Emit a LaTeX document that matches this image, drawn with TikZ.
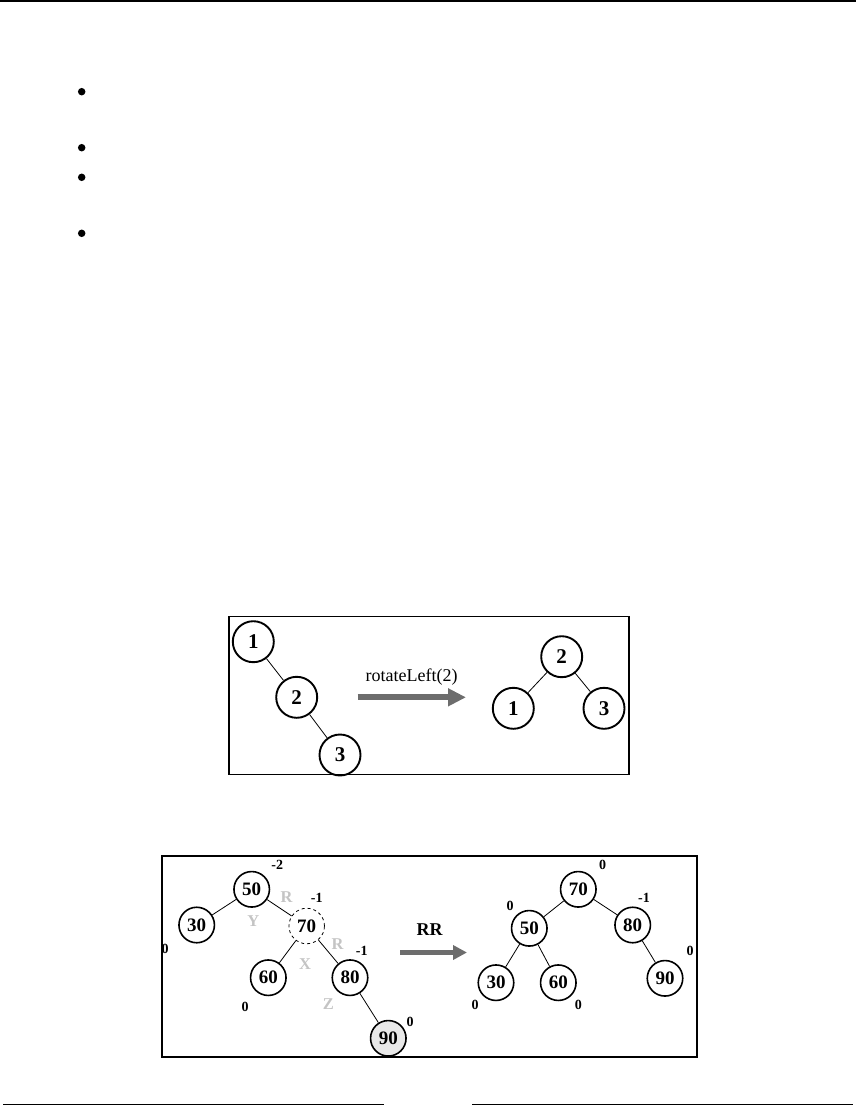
\documentclass[tikz,border=0pt]{standalone}
\usepackage{fontspec}
\setmainfont{Liberation Serif}
\usetikzlibrary{arrows.meta}
\definecolor{arrowgray}{HTML}{6D6D6D}
\definecolor{lightlab}{HTML}{C4C4C4}
\definecolor{fillgray}{HTML}{E8E8E8}
\tikzset{
  tnode/.style={circle, draw, line width=1.9pt, minimum size=41pt, inner sep=0pt, font=\fontsize{21}{21}\selectfont\bfseries},
  snode/.style={circle, draw, line width=1.6pt, minimum size=35.5pt, inner sep=0pt, font=\fontsize{19}{19}\selectfont\bfseries},
  edge/.style={line width=0.8pt},
  bigarrow/.style={draw=arrowgray, line width=6pt, -{Triangle[length=18pt,width=17pt]}, arrowgray},
  smallarrow/.style={draw=arrowgray, line width=5pt, -{Triangle[length=14pt,width=14pt]}, arrowgray},
  bal/.style={inner sep=0pt, font=\fontsize{14}{14}\selectfont\bfseries},
  glab/.style={inner sep=0pt, text=lightlab, font=\fontsize{16.5}{16.5}\selectfont\bfseries},
  frame/.style={draw, line width=1.9pt},
  bullet/.style={circle, fill=black, inner sep=0pt, minimum size=7.5pt},
  rule/.style={line width=0.9pt}
}
\begin{document}
\begin{tikzpicture}[x=1pt,y=-1pt]
\useasboundingbox (0,0) rectangle (856,1105);
% header and footer rules
\coordinate (tl) at (0,1);
\coordinate (tr) at (856,1);
\draw[line width=2pt] (tl) -- (tr);
\coordinate (bl1) at (3,1104.3);
\coordinate (bl2) at (384,1104.3);
\coordinate (br1) at (472,1104.3);
\coordinate (br2) at (853,1104.3);
\draw[rule] (bl1) -- (bl2);
\draw[rule] (br1) -- (br2);
% bullets
\node[bullet] (b1) at (81.7,91.7) {};
\node[bullet] (b2) at (81.7,147.7) {};
\node[bullet] (b3) at (81.7,177.3) {};
\node[bullet] (b4) at (81.7,233.3) {};
% ---------- box 1 ----------
\coordinate (f1a) at (229,616.5);
\coordinate (f1b) at (629,774.5);
\draw[frame] (f1a) rectangle (f1b);
\node[tnode] (a1) at (253.3,641.7) {1};
\node[tnode] (a2) at (296.7,697.3) {2};
\node[tnode] (a3) at (340,755) {3};
\draw[edge] (a1) -- (a2);
\draw[edge] (a2) -- (a3);
\coordinate (r1s) at (357.7,697.3);
\coordinate (r1e) at (466,697.3);
\draw[bigarrow] (r1s) -- (r1e);
\node[inner sep=0pt, font=\fontsize{18}{18}\selectfont] (rotl) at (411.7,676.7) {rotateLeft(2)};
\node[tnode] (c2) at (561.7,656.7) {2};
\node[tnode] (c1) at (513.3,708.3) {1};
\node[tnode] (c3) at (604,708.3) {3};
\draw[edge] (c2) -- (c1);
\draw[edge] (c2) -- (c3);
% ---------- box 2 ----------
\coordinate (f2a) at (162,856);
\coordinate (f2b) at (697,1057);
\draw[frame] (f2a) rectangle (f2b);
\node[snode] (n50) at (251.7,889.3) {50};
\node[snode] (n30) at (196.7,925) {30};
\node[snode, dashed, line width=0.8pt] (n70) at (306.7,926) {70};
\node[snode] (n60) at (268.3,977.7) {60};
\node[snode] (n80) at (350,977.7) {80};
\node[snode, fill=fillgray] (n90) at (388.3,1038.3) {90};
\draw[edge] (n50) -- (n30);
\draw[edge] (n50) -- (n70);
\draw[edge] (n70) -- (n60);
\draw[edge] (n70) -- (n80);
\draw[edge] (n80) -- (n90);
\node[bal] (l1) at (277.3,865) {-2};
\node[glab] (g1) at (286.7,896.7) {R};
\node[bal] (l2) at (316.7,898.3) {-1};
\node[glab] (g2) at (253.3,920.7) {Y};
\node[bal] (l3) at (165,949) {0};
\node[glab] (g3) at (337.7,944.3) {R};
\node[bal] (l4) at (361.7,950.7) {-1};
\node[glab] (g4) at (305,964.3) {X};
\node[bal] (l5) at (245,1006.7) {0};
\node[glab] (g5) at (328.3,1004) {Z};
\node[bal] (l6) at (410,1021.7) {0};
\node[inner sep=0pt, font=\fontsize{18}{18}\selectfont\bfseries] (rr) at (429.7,929.3) {RR};
\coordinate (r2s) at (400,952.5);
\coordinate (r2e) at (467,952.5);
\draw[smallarrow] (r2s) -- (r2e);
\node[snode] (m70) at (578.3,889.3) {70};
\node[snode] (m50) at (529.3,928.3) {50};
\node[snode] (m80) at (632.7,925) {80};
\node[snode] (m30) at (496,982.7) {30};
\node[snode] (m60) at (558.3,982.7) {60};
\node[snode] (m90) at (665,978.3) {90};
\draw[edge] (m70) -- (m50);
\draw[edge] (m70) -- (m80);
\draw[edge] (m50) -- (m30);
\draw[edge] (m50) -- (m60);
\draw[edge] (m80) -- (m90);
\node[bal] (k1) at (602.7,865) {0};
\node[bal] (k2) at (510,906) {0};
\node[bal] (k3) at (644,898.3) {-1};
\node[bal] (k4) at (690,951) {0};
\node[bal] (k5) at (475,1005) {0};
\node[bal] (k6) at (578.3,1005) {0};
\end{tikzpicture}
\end{document}
